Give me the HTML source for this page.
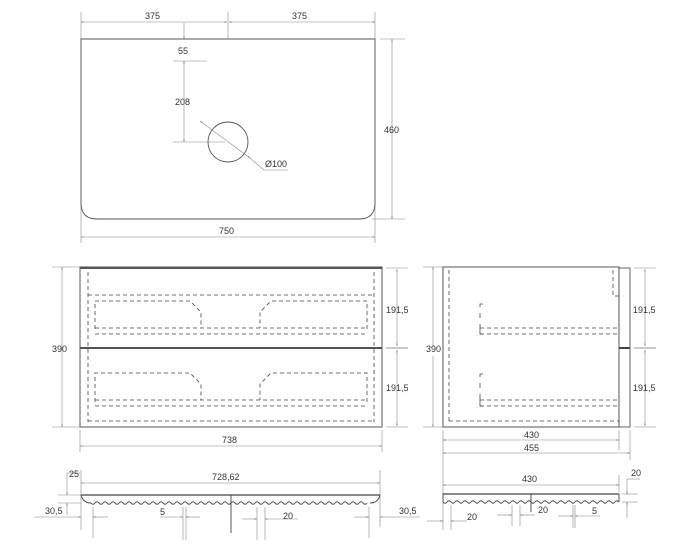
<!DOCTYPE html>
<html><head><meta charset="utf-8"><style>
html,body{margin:0;padding:0;background:#fff}
svg{display:block}
text{font-family:"Liberation Sans",sans-serif;font-size:9px;fill:#333}
</style></head><body>
<svg width="695" height="556" viewBox="0 0 695 556" xmlns="http://www.w3.org/2000/svg">
<defs>
<marker id="a" viewBox="0 0 10 10" refX="10" refY="5" markerWidth="6" markerHeight="4" orient="auto-start-reverse"><path d="M0,2 L10,5 L0,8z" fill="#777"/></marker>
</defs>
<g stroke="#888" stroke-width="0.6" fill="none">
<!-- TOP VIEW -->
<line x1="81" y1="12" x2="81" y2="243"/><line x1="375" y1="12" x2="375" y2="243"/>
<line x1="228" y1="12" x2="228" y2="39"/>
<line x1="81" y1="22" x2="227" y2="22" marker-start="url(#a)" marker-end="url(#a)"/>
<line x1="229" y1="22" x2="375" y2="22" marker-start="url(#a)" marker-end="url(#a)"/>
<line x1="81" y1="237" x2="375" y2="237" marker-start="url(#a)" marker-end="url(#a)"/>
<line x1="380" y1="39" x2="405" y2="39"/><line x1="372" y1="219" x2="405" y2="219"/>
<line x1="392" y1="39" x2="392" y2="219" marker-start="url(#a)" marker-end="url(#a)"/>
<line x1="184" y1="23" x2="184" y2="39" marker-end="url(#a)"/>
<line x1="173" y1="61" x2="207" y2="61"/>
<line x1="184" y1="61" x2="184" y2="142" marker-start="url(#a)" marker-end="url(#a)"/>
<line x1="173" y1="142" x2="225" y2="142"/>
<line x1="200" y1="121" x2="250" y2="158" marker-start="url(#a)" marker-end="url(#a)"/>
<line x1="250" y1="158" x2="264" y2="170"/><line x1="264" y1="170" x2="288" y2="170"/>
</g>
<path d="M81,39 H375 V203 Q375,219 359,219 H97 Q81,219 81,203 Z" fill="none" stroke="#555" stroke-width="0.9"/>
<circle cx="228" cy="142" r="20" fill="none" stroke="#555" stroke-width="0.9"/>
<text x="145" y="19">375</text><text x="292" y="19">375</text>
<text x="178" y="54">55</text><text x="175" y="105">208</text>
<text x="384" y="133">460</text><text x="219" y="234">750</text>
<text x="265" y="167">Ø100</text>

<!-- FRONT VIEW -->
<g stroke="#888" stroke-width="0.6" fill="none">
<line x1="52" y1="267" x2="80" y2="267"/><line x1="52" y1="427" x2="80" y2="427"/>
<line x1="62" y1="267" x2="62" y2="427" marker-start="url(#a)" marker-end="url(#a)"/>
<line x1="386" y1="268" x2="408" y2="268"/><line x1="386" y1="427" x2="408" y2="427"/>
<line x1="386" y1="348" x2="408" y2="348" stroke="#aaa" stroke-width="1.2"/>
<line x1="397" y1="269" x2="397" y2="346" marker-start="url(#a)" marker-end="url(#a)"/>
<line x1="397" y1="350" x2="397" y2="426" marker-start="url(#a)" marker-end="url(#a)"/>
<line x1="80" y1="430" x2="80" y2="452"/><line x1="382" y1="430" x2="382" y2="452"/>
<line x1="80" y1="446" x2="382" y2="446" marker-start="url(#a)" marker-end="url(#a)"/>
</g>
<rect x="80" y="267" width="302" height="160" fill="none" stroke="#555" stroke-width="1"/>
<line x1="80" y1="268" x2="382" y2="268" stroke="#555" stroke-width="2"/>
<line x1="80" y1="348" x2="382" y2="348" stroke="#555" stroke-width="2"/>
<g stroke="#444" stroke-width="0.8" fill="none" stroke-dasharray="4,3">
<line x1="88" y1="272" x2="88" y2="422"/><line x1="374" y1="272" x2="374" y2="422"/>
<line x1="88" y1="295" x2="374" y2="295"/>
<line x1="88" y1="421" x2="374" y2="421"/>
<path d="M95,329 V301 H190 L201,312 V328"/><path d="M367,329 V301 H271 L260,312 V328"/>
<line x1="95" y1="328" x2="367" y2="328"/><line x1="95" y1="334" x2="367" y2="334"/>
<path d="M95,402 V373 H190 L201,384 V400"/><path d="M367,402 V373 H271 L260,384 V400"/>
<line x1="95" y1="400" x2="367" y2="400"/><line x1="95" y1="406" x2="367" y2="406"/>
</g>
<text x="52" y="352">390</text>
<text x="386" y="313">191,5</text><text x="386" y="391">191,5</text>
<text x="222" y="443">738</text>

<!-- SIDE VIEW -->
<g stroke="#888" stroke-width="0.6" fill="none">
<line x1="423" y1="267" x2="443" y2="267"/><line x1="423" y1="427" x2="443" y2="427"/>
<line x1="433" y1="267" x2="433" y2="427" marker-start="url(#a)" marker-end="url(#a)"/>
<line x1="634" y1="268" x2="656" y2="268"/><line x1="634" y1="427" x2="656" y2="427"/>
<line x1="634" y1="348" x2="656" y2="348" stroke="#aaa" stroke-width="1.2"/>
<line x1="645" y1="269" x2="645" y2="346" marker-start="url(#a)" marker-end="url(#a)"/>
<line x1="645" y1="350" x2="645" y2="426" marker-start="url(#a)" marker-end="url(#a)"/>
<line x1="443" y1="430" x2="443" y2="460"/><line x1="619" y1="430" x2="619" y2="450"/><line x1="630" y1="430" x2="630" y2="460"/>
<line x1="443" y1="440" x2="619" y2="440" marker-start="url(#a)" marker-end="url(#a)"/>
<line x1="443" y1="453" x2="630" y2="453" marker-start="url(#a)" marker-end="url(#a)"/>
</g>
<rect x="443" y="267" width="176" height="160" fill="none" stroke="#555" stroke-width="1"/>
<rect x="619" y="268" width="11" height="159" fill="none" stroke="#555" stroke-width="0.9"/>
<line x1="619" y1="348" x2="630" y2="348" stroke="#444" stroke-width="2"/>
<g stroke="#444" stroke-width="0.8" fill="none" stroke-dasharray="4,3">
<line x1="449" y1="270" x2="449" y2="422"/><line x1="449" y1="421" x2="619" y2="421"/>
<path d="M613,270 V296 H619"/>
<line x1="480" y1="328" x2="619" y2="328"/><line x1="480" y1="334" x2="619" y2="334"/>
<line x1="480" y1="400" x2="619" y2="400"/><line x1="480" y1="406" x2="619" y2="406"/>
</g>
<g stroke="#444" stroke-width="0.8" fill="none">
<path d="M483,304 H480 V307 M480,313 V318 M480,324 V334 H483"/>
<path d="M483,374 H480 V377 M480,383 V388 M480,394 V406 H483"/>
</g>
<rect x="424" y="346" width="14" height="10" fill="#fff"/>
<text x="426" y="352">390</text>
<text x="633" y="313">191,5</text><text x="633" y="391">191,5</text>
<text x="524" y="438">430</text><text x="524" y="451">455</text>

<!-- BOTTOM LEFT -->
<g stroke="#888" stroke-width="0.6" fill="none">
<line x1="81" y1="470" x2="81" y2="530"/><line x1="380" y1="470" x2="380" y2="527"/>
<line x1="81" y1="483" x2="380" y2="483" marker-start="url(#a)" marker-end="url(#a)"/>
<line x1="67" y1="473" x2="80" y2="473"/><line x1="67" y1="473" x2="67" y2="495" marker-end="url(#a)"/>
<line x1="58" y1="495" x2="81" y2="495"/><line x1="58" y1="503" x2="81" y2="503"/>
<line x1="67" y1="515" x2="67" y2="503" marker-end="url(#a)"/>
<line x1="34" y1="517" x2="81" y2="517" marker-end="url(#a)"/>
<line x1="93" y1="507" x2="93" y2="538"/><line x1="108" y1="517" x2="93" y2="517" marker-end="url(#a)"/>
<line x1="183" y1="507" x2="183" y2="540"/><line x1="186" y1="507" x2="186" y2="540"/>
<line x1="160" y1="517" x2="183" y2="517" marker-end="url(#a)"/><line x1="200" y1="517" x2="186" y2="517" marker-end="url(#a)"/>
<line x1="257" y1="507" x2="257" y2="540"/><line x1="265" y1="507" x2="265" y2="540"/>
<line x1="242" y1="519" x2="257" y2="519" marker-end="url(#a)"/><line x1="298" y1="519" x2="265" y2="519" marker-end="url(#a)"/>
<line x1="369" y1="507" x2="369" y2="538"/>
<line x1="354" y1="517" x2="369" y2="517" marker-end="url(#a)"/><line x1="420" y1="517" x2="380" y2="517" marker-end="url(#a)"/>
</g>
<g stroke="#444" stroke-width="0.9" fill="none">
<line x1="81" y1="495" x2="380" y2="495" stroke-width="1.3"/>
<path d="M81,495 Q83,503 91,503"/><path d="M380,495 Q378,503 370,503"/>
<path d="M91,503 q2,2.5 4,0 t4,0 t4,0 t4,0 t4,0 t4,0 t4,0 t4,0 t4,0 t4,0 t4,0 t4,0 t4,0 t4,0 t4,0 t4,0 t4,0 t4,0 t4,0 t4,0 t4,0 t4,0 t4,0 t4,0 t4,0 t4,0 t4,0 t4,0 t4,0 t4,0 t4,0 t4,0 t4,0 t4,0 t4,0 t4,0 t4,0 t4,0 t4,0 t4,0 t4,0 t4,0 t4,0 t4,0 t4,0 t4,0 t4,0 t4,0 t4,0 t4,0 t4,0 t4,0 t4,0 t4,0 t4,0 t4,0 t4,0 t4,0 t4,0 t4,0 t4,0 t4,0 t4,0 t4,0 t4,0 t4,0 t4,0 t4,0 t4,0"/>
<line x1="231" y1="495" x2="231" y2="533"/>
</g>
<text x="69" y="477">25</text><text x="212" y="480">728,62</text>
<text x="45" y="514">30,5</text><text x="160" y="515">5</text><text x="283" y="519">20</text>
<text x="399" y="514">30,5</text>

<!-- BOTTOM RIGHT -->
<g stroke="#888" stroke-width="0.6" fill="none">
<line x1="443" y1="460" x2="443" y2="530"/><line x1="619" y1="475" x2="619" y2="492"/>
<line x1="443" y1="485" x2="619" y2="485" marker-start="url(#a)" marker-end="url(#a)"/>
<line x1="627" y1="479" x2="640" y2="479"/><line x1="627" y1="479" x2="627" y2="494" marker-end="url(#a)"/>
<line x1="622" y1="494" x2="638" y2="494"/><line x1="622" y1="502" x2="638" y2="502"/>
<line x1="627" y1="518" x2="627" y2="502" marker-end="url(#a)"/>
<line x1="427" y1="521" x2="443" y2="521" marker-end="url(#a)"/>
<line x1="451" y1="505" x2="451" y2="530"/><line x1="467" y1="521" x2="451" y2="521" marker-end="url(#a)"/>
<line x1="512" y1="505" x2="512" y2="526"/><line x1="520" y1="505" x2="520" y2="526"/>
<line x1="497" y1="515" x2="512" y2="515" marker-end="url(#a)"/><line x1="535" y1="515" x2="520" y2="515" marker-end="url(#a)"/>
<line x1="573" y1="505" x2="573" y2="528"/><line x1="575" y1="505" x2="575" y2="528"/>
<line x1="558" y1="516" x2="573" y2="516" marker-end="url(#a)"/><line x1="600" y1="516" x2="575" y2="516" marker-end="url(#a)"/>
</g>
<g stroke="#444" stroke-width="0.9" fill="none">
<path d="M443,502 V494 H619 V502" />
<line x1="443" y1="494" x2="619" y2="494" stroke-width="1.3"/>
<path d="M443,502 q2,2.5 4,0 t4,0 t4,0 t4,0 t4,0 t4,0 t4,0 t4,0 t4,0 t4,0 t4,0 t4,0 t4,0 t4,0 t4,0 t4,0 t4,0 t4,0 t4,0 t4,0 t4,0 t4,0 t4,0 t4,0 t4,0 t4,0 t4,0 t4,0 t4,0 t4,0 t4,0 t4,0 t4,0 t4,0 t4,0 t4,0 t4,0 t4,0 t4,0 t4,0 t4,0 t4,0 t4,0 t4,0"/>
<line x1="531" y1="494" x2="531" y2="512"/>
</g>
<text x="522" y="482">430</text><text x="631" y="476">20</text>
<text x="467" y="520">20</text><text x="538" y="513">20</text><text x="592" y="514">5</text>
</svg>
</body></html>
